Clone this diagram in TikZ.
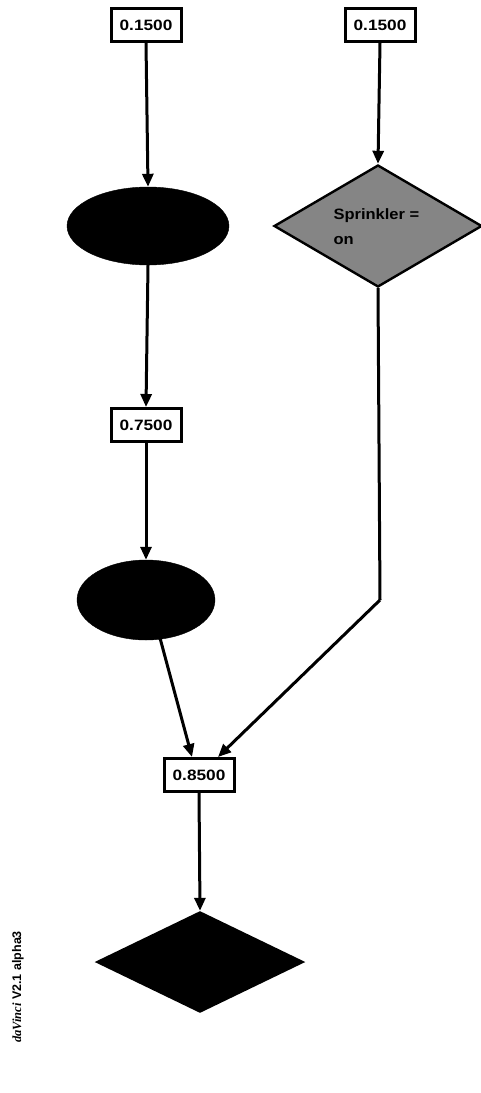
\documentclass[tikz,border=0pt]{standalone}
\usepackage{fontspec}
\setmainfont{Liberation Sans}
\usetikzlibrary{shapes.geometric,arrows.meta}
\begin{document}
\begin{tikzpicture}[x=1pt,y=-1pt,
  valbox/.style={draw=black,line width=3pt,fill=white,minimum width=70pt,minimum height=33pt,inner sep=0pt,
    font=\fontsize{15}{17}\selectfont\bfseries},
  blob/.style={ellipse,fill=black,draw=black,inner sep=0pt},
  decide/.style={diamond,draw=black,line width=2.4pt,inner sep=0pt},
  conn/.style={line width=3pt,-{Triangle[length=13pt,width=11pt]}},
  plain/.style={line width=3pt}]
\useasboundingbox (0,0) rectangle (480,1093);
\node[valbox] (b1) at (146,25) {\scalebox{1.15}[1]{0.1500}};
\node[valbox] (b2) at (380,25) {\scalebox{1.15}[1]{0.1500}};
\node[blob,minimum width=162pt,minimum height=78pt] (e1) at (148,226) {};
\node[decide,fill=black!48,minimum width=208pt,minimum height=122pt] (d1) at (378,226) {};
\node[anchor=west,align=left,font=\fontsize{15}{25}\selectfont\bfseries,text=black] (t1) at (330,227) {\scalebox{1.1}[1]{Sprinkler =}\\\scalebox{1.1}[1]{on}};
\node[valbox] (b3) at (146,425) {\scalebox{1.15}[1]{0.7500}};
\node[blob,minimum width=138pt,minimum height=80pt] (e2) at (146,600) {};
\node[valbox] (b4) at (199,775) {\scalebox{1.15}[1]{0.8500}};
\node[decide,fill=black,minimum width=206pt,minimum height=100pt] (d2) at (200,962) {};
\node[rotate=90,font=\fontsize{12.5}{14}\selectfont\bfseries] (lbl) at (18,987) {{\fontspec{Liberation Serif}\itshape daVinci} V2.1 alpha3};
\coordinate (bend) at (380,600);
\draw[conn] (b1.south) -- (e1.north);
\draw[conn] (b2.south) -- (d1.north);
\draw[conn] (e1.south) -- (b3.north);
\draw[conn] (b3.south) -- (e2.north);
\draw[conn] (160,638) -- ([xshift=-7pt]b4.north);
\draw[plain] (d1.south) -- (bend);
\draw[conn] (bend) -- ([xshift=19pt]b4.north);
\draw[conn] (b4.south) -- (d2.north);
\end{tikzpicture}
\end{document}
